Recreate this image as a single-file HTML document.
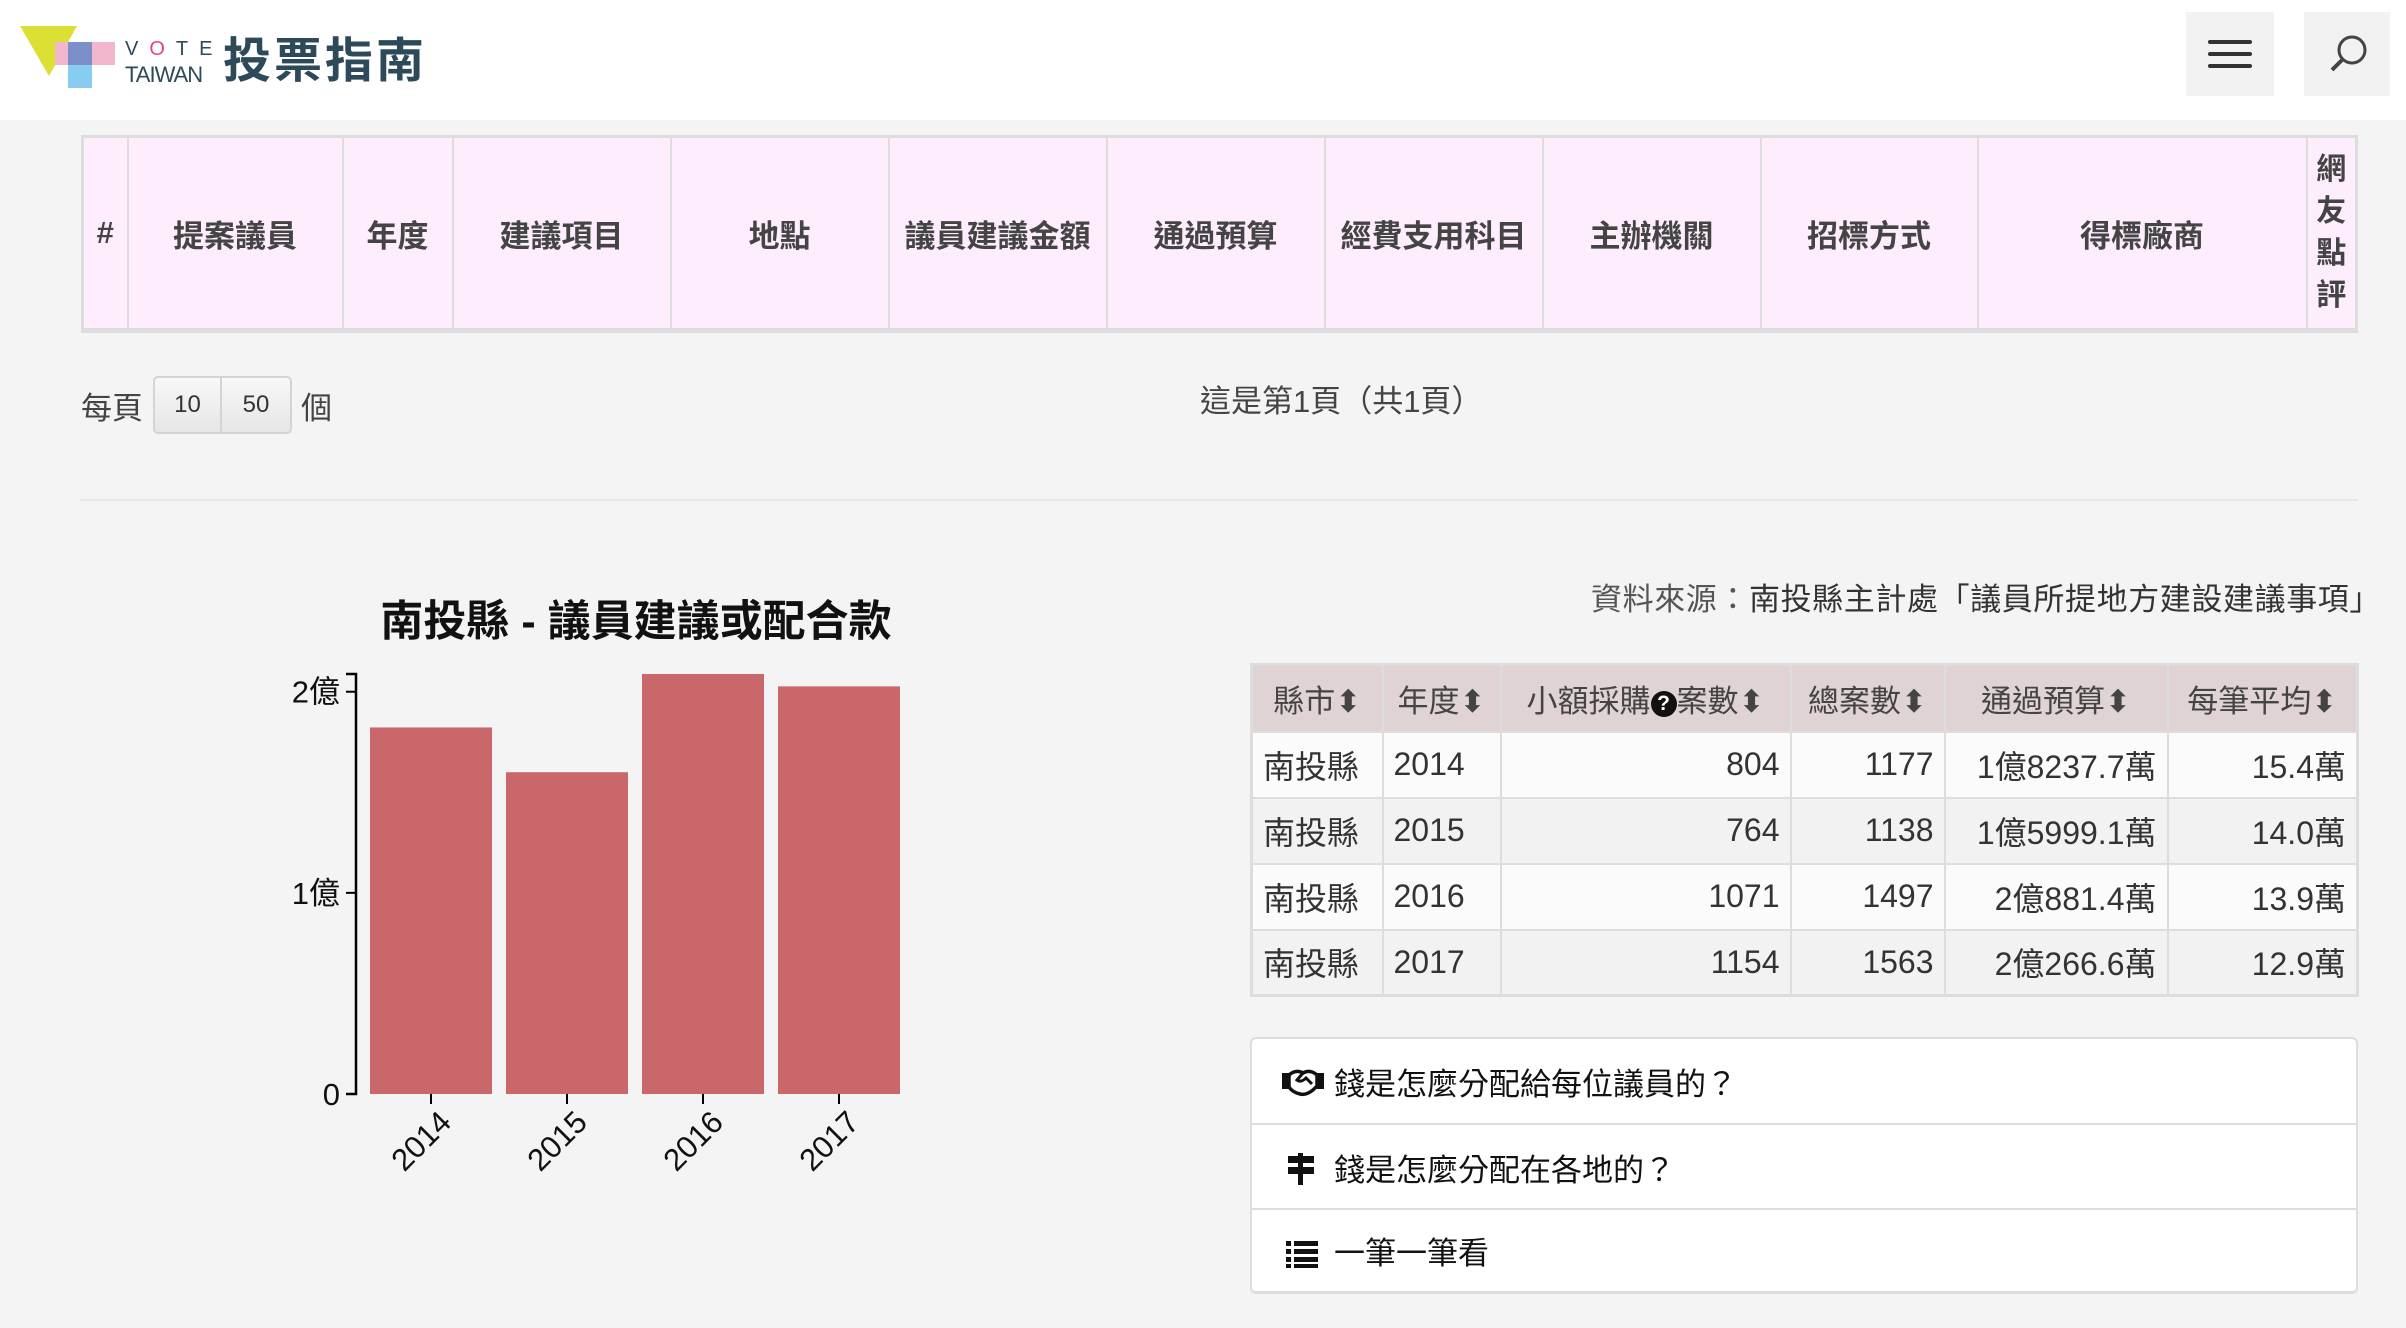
<!DOCTYPE html>
<html><head><meta charset="utf-8">
<style>
*{box-sizing:border-box;margin:0;padding:0}
body{width:2406px;height:1328px;background:#f4f4f4;font-family:"Liberation Sans","Noto Sans CJK TC",sans-serif;color:#333;position:relative;overflow:hidden}
.abs{position:absolute}
#hdr{left:0;top:0;width:2406px;height:120px;background:#fff}
.btn{background:#f2f2f2}
table{border-collapse:collapse;position:absolute}
#top-table{left:81px;top:135px;width:2277px;height:198px;background:#fdedfd;border:3px solid #ddd;border-bottom:5px solid #ddd}
#top-table th{border-left:2px solid #ddd;font-size:31px;font-weight:bold;color:#444;text-align:center;vertical-align:middle}
#stat{left:1250px;top:663px;width:1109px;border:3px solid #ddd}
#stat th{background:#e0d3d3;height:67px;font-size:31px;color:#444;font-weight:normal;border:2px solid #ddd;text-align:center}
#stat td{height:66px;font-size:32px;color:#333;border:2px solid #ddd;padding:0 10px}
#stat tr:nth-child(odd) td{background:#f2f2f2}
#stat tr:nth-child(even) td{background:#fbfbfb}
.r{text-align:right}
.q{display:inline-block;width:26px;height:26px;border-radius:50%;background:#111;color:#fff;font-size:21px;line-height:26px;text-align:center;font-weight:bold;vertical-align:2px}
.acc{left:1250px;width:1108px;height:86px;background:#fff;font-size:31px;color:#111;display:flex;align-items:center;padding-left:82px;border-left:2px solid #ddd;border-right:2px solid #ddd}
</style></head><body>
<div id="hdr" class="abs">
 <div class="abs" style="left:18px;top:24px;width:410px;height:70px">
  <svg class="abs" style="left:0;top:0" width="110" height="70">
   <polygon points="2,2 59,2 31,52" fill="#dbe032"/>
   <rect x="37" y="18" width="60" height="23" fill="#f2b6cf"/>
   <rect x="50" y="18" width="24" height="46" fill="#86cdf0"/>
   <rect x="50" y="18" width="24" height="23" fill="#7b8fc8"/>
  </svg>
  <div class="abs" style="left:107px;top:14px;font-size:20px;letter-spacing:11px;color:#2d4a5a">V<span style="color:#e8408a">O</span>TE</div>
  <div class="abs" style="left:107px;top:38px;font-size:22px;color:#2d4a5a;letter-spacing:-1px">TAIWAN</div>
  <div class="abs" style="left:205px;top:10px;font-size:48px;font-weight:bold;color:#2d4a5a;letter-spacing:3px;line-height:56px">投票指南</div>
 </div>
 <div class="abs btn" style="left:2186px;top:12px;width:88px;height:84px">
  <div class="abs" style="left:22px;top:28px;width:44px;height:4px;background:#333;border-radius:2px"></div>
  <div class="abs" style="left:22px;top:40px;width:44px;height:4px;background:#333;border-radius:2px"></div>
  <div class="abs" style="left:22px;top:52px;width:44px;height:4px;background:#333;border-radius:2px"></div>
 </div>
 <div class="abs btn" style="left:2304px;top:12px;width:86px;height:84px">
  <svg width="86" height="84"><circle cx="48" cy="38" r="13" fill="none" stroke="#444" stroke-width="3"/><line x1="38" y1="48" x2="28" y2="58" stroke="#444" stroke-width="4"/></svg>
 </div>
</div>

<table id="top-table"><tr>
<th style="width:45px;border-left:none">#</th>
<th style="width:215px">提案議員</th>
<th style="width:110px">年度</th>
<th style="width:218px">建議項目</th>
<th style="width:218px">地點</th>
<th style="width:218px">議員建議金額</th>
<th style="width:218px">通過預算</th>
<th style="width:218px">經費支用科目</th>
<th style="width:218px">主辦機關</th>
<th style="width:217px">招標方式</th>
<th style="width:329px">得標廠商</th>
<th style="line-height:42px;font-size:30px">網<br>友<br>點<br>評</th>
</tr></table>

<div class="abs" style="left:81px;top:383px;font-size:31px;color:#444">每頁</div>
<div class="abs" style="left:153px;top:376px;width:139px;height:58px;border:2px solid #d4d4d4;border-radius:5px;background:linear-gradient(#f8f8f8,#e6e6e6);display:flex;font-size:24px">
 <div style="width:67px;border-right:2px solid #d4d4d4;display:flex;align-items:center;justify-content:center">10</div>
 <div style="flex:1;display:flex;align-items:center;justify-content:center">50</div>
</div>
<div class="abs" style="left:301px;top:383px;font-size:31px;color:#444">個</div>
<div class="abs" style="left:1200px;top:376px;font-size:31px;color:#444">這是第1頁（共1頁）</div>
<div class="abs" style="left:80px;top:499px;width:2278px;height:2px;background:#e8e8e8"></div>

<div class="abs" style="right:25px;top:574px;font-size:31px;letter-spacing:0.6px;color:#333;white-space:nowrap"><span style="color:#555">資料來源：</span>南投縣主計處「議員所提地方建設建議事項」</div>

<table id="stat">
<tr><th style="width:131px">縣市⬍</th><th style="width:118px">年度⬍</th><th style="width:290px">小額採購<span class="q">?</span>案數⬍</th><th style="width:154px">總案數⬍</th><th style="width:223px">通過預算⬍</th><th>每筆平均⬍</th></tr>
<tr><td>南投縣</td><td>2014</td><td class="r">804</td><td class="r">1177</td><td class="r">1億8237.7萬</td><td class="r">15.4萬</td></tr>
<tr><td>南投縣</td><td>2015</td><td class="r">764</td><td class="r">1138</td><td class="r">1億5999.1萬</td><td class="r">14.0萬</td></tr>
<tr><td>南投縣</td><td>2016</td><td class="r">1071</td><td class="r">1497</td><td class="r">2億881.4萬</td><td class="r">13.9萬</td></tr>
<tr><td>南投縣</td><td>2017</td><td class="r">1154</td><td class="r">1563</td><td class="r">2億266.6萬</td><td class="r">12.9萬</td></tr>
</table>

<div class="abs acc" style="top:1037px;border-top:2px solid #ddd;border-radius:6px 6px 0 0">
 <svg class="abs" style="left:30px;top:28px" width="42" height="30"><rect x="0" y="6" width="7" height="16" fill="#111"/><rect x="35" y="6" width="7" height="16" fill="#111"/><path d="M7,8 Q14,2 21,6 Q28,2 35,8 L35,19 Q26,29 18,27 Q10,25 7,20 Z" fill="none" stroke="#111" stroke-width="3.5"/><path d="M21,6 L15,13 Q19,16 24,11 L30,17" fill="none" stroke="#111" stroke-width="3"/></svg>錢是怎麼分配給每位議員的？</div>
<div class="abs acc" style="top:1123px;border-top:2px solid #ddd">
 <svg class="abs" style="left:34px;top:28px" width="30" height="32"><rect x="2" y="3" width="26" height="7" fill="#111"/><rect x="2" y="14" width="26" height="7" fill="#111"/><rect x="12" y="0" width="5" height="32" fill="#111"/></svg>錢是怎麼分配在各地的？</div>
<div class="abs acc" style="top:1208px;height:86px;border-top:2px solid #ddd;border-bottom:3px solid #ddd;border-radius:0 0 6px 6px">
 <svg class="abs" style="left:34px;top:30px" width="32" height="28"><g fill="#111"><rect x="0" y="1" width="5" height="5"/><rect x="8" y="1" width="24" height="5"/><rect x="0" y="9" width="5" height="5"/><rect x="8" y="9" width="24" height="5"/><rect x="0" y="17" width="5" height="5"/><rect x="8" y="17" width="24" height="5"/><rect x="0" y="24" width="5" height="4"/><rect x="8" y="24" width="24" height="4"/></g></svg>一筆一筆看</div>

<svg class="abs" style="left:0;top:0" width="1000" height="1328" id="chart">
 <text x="636" y="636" text-anchor="middle" font-size="43" font-weight="bold" fill="#111">南投縣 - 議員建議或配合款</text>
</svg>
<script>
const years = ['2014','2015','2016','2017'];
const budgets = [1.822377, 1.599910, 2.088140, 2.026660];
const yTicks = [0, 1, 2];
const yTickLabels = ['0', '1億', '2億'];
(function(){
 const svg = document.getElementById('chart');
 const NS = 'http://www.w3.org/2000/svg';
 const x0 = 356, y0 = 1094, plotH = 420, band = 136, pad = 14;
 const yMax = Math.max(...budgets);
 const y = v => y0 - v / yMax * plotH;
 const x = i => x0 + pad + i * band;
 function el(t, a){const e=document.createElementNS(NS,t);for(const k in a)e.setAttribute(k,a[k]);svg.appendChild(e);return e;}
 budgets.forEach((v,i)=>{
  const r = el('rect',{x:x(i),y:y(v),width:band-pad,height:y0-y(v),fill:'#c9676a'});
  
  
  const cx = x(i) + (band-pad)/2;
  el('line',{x1:cx,y1:y0,x2:cx,y2:y0+10,stroke:'#000','stroke-width':2});
  const t = el('text',{x:cx+22,y:y0+30,'text-anchor':'end','font-size':31,fill:'#111',transform:`rotate(-45 ${cx+22} ${y0+30})`});
  t.textContent = years[i];
  
  
 });
 const axis = el('path',{d:`M${x0-10},${y(yMax)}H${x0}V${y0}H${x0-10}`,fill:'none',stroke:'#000','stroke-width':2.5});
 
 
 yTicks.forEach((v,i)=>{
  el('line',{x1:x0-10,y1:y(v),x2:x0,y2:y(v),stroke:'#000','stroke-width':2});
  const t = el('text',{x:x0-16,y:y(v)+11,'text-anchor':'end','font-size':31,fill:'#111'});
  t.textContent = yTickLabels[i];
  
  
 });
})();
</script>
</body></html>
